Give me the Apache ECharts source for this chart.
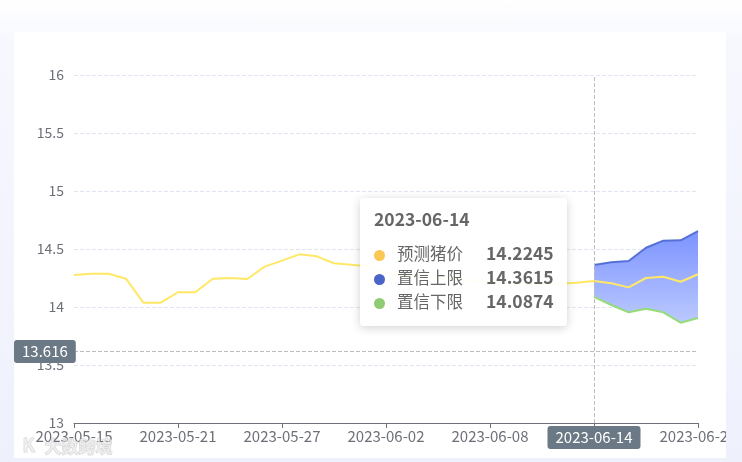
<!DOCTYPE html>
<html>
<head>
<meta charset="utf-8">
<script src="https://cdn.jsdelivr.net/npm/echarts@6/dist/echarts.min.js"></script>
<style>
  html, body { margin:0; padding:0; width:742px; height:462px; overflow:hidden;
    background: linear-gradient(180deg, #ffffff 0px, #f7f8fe 40px, #eef0fc 462px); }
  #card { position:absolute; left:14px; top:32px; width:712px; height:426px; background:#ffffff; }
  #chart { width:712px; height:426px; }
</style>
</head>
<body>
<div id="card"><div id="chart"></div></div>
<script>
const dates = [
  '2023-05-15','2023-05-16','2023-05-17','2023-05-18','2023-05-19','2023-05-20','2023-05-21',
  '2023-05-22','2023-05-23','2023-05-24','2023-05-25','2023-05-26','2023-05-27','2023-05-28',
  '2023-05-29','2023-05-30','2023-05-31','2023-06-01','2023-06-02','2023-06-03','2023-06-04',
  '2023-06-05','2023-06-06','2023-06-07','2023-06-08','2023-06-09','2023-06-10','2023-06-11',
  '2023-06-12','2023-06-13','2023-06-14','2023-06-15','2023-06-16','2023-06-17','2023-06-18',
  '2023-06-19','2023-06-20'
];
const forecastPrice = [
  14.276, 14.287, 14.287, 14.244, 14.037, 14.037, 14.127, 14.127, 14.244, 14.250,
  14.241, 14.348, 14.400, 14.454, 14.437, 14.377, 14.365, 14.350, 14.300, 14.270,
  14.260, 14.250, 14.240, 14.230, 14.220, 14.205, 14.200, 14.195, 14.200, 14.210,
  14.2245, 14.204, 14.169, 14.250, 14.261, 14.218, 14.282
];
const upperBound = [
  null,null,null,null,null,null,null,null,null,null,
  null,null,null,null,null,null,null,null,null,null,
  null,null,null,null,null,null,null,null,null,null,
  14.3615, 14.385, 14.397, 14.511, 14.572, 14.575, 14.655
];
const lowerBound = [
  null,null,null,null,null,null,null,null,null,null,
  null,null,null,null,null,null,null,null,null,null,
  null,null,null,null,null,null,null,null,null,null,
  14.0874, 14.017, 13.954, 13.985, 13.954, 13.865, 13.905
];
const yTicks = { min: 13, max: 16, interval: 0.5 };

const bandWidth = upperBound.map((u, i) => (u == null || lowerBound[i] == null) ? null : +(u - lowerBound[i]).toFixed(4));

const chart = echarts.init(document.getElementById('chart'), null, { renderer: 'canvas' });
const FONT = '"Noto Sans CJK SC", "Noto Sans", sans-serif';
const colors = { price: '#f6d35c', upper: '#4e67c4', lower: '#88c86e' };

chart.setOption({
  animation: false,
  textStyle: { fontFamily: FONT },
  grid: { left: 60, right: 28, top: 43, bottom: 35, outerBoundsMode: 'none', containLabel: false },
  tooltip: {
    trigger: 'axis',
    alwaysShowContent: true,
    transitionDuration: 0,
    backgroundColor: 'rgba(255,255,255,0.94)',
    borderWidth: 0,
    padding: [10, 13, 13, 14],
    extraCssText: 'box-shadow:0 2px 10px rgba(0,0,0,0.18);border-radius:4px;',
    position: function () { return [346, 166]; },
    axisPointer: {
      type: 'cross',
      crossStyle: { color: '#bdbdbd', type: 'dashed', width: 1 },
      lineStyle: { color: '#bdbdbd', type: 'dashed', width: 1 },
      label: { backgroundColor: '#6a7985', fontSize: 15, fontFamily: FONT, padding: [4, 8, 4, 8], borderRadius: 3 }
    },
    formatter: function (params) {
      const i = params[0].dataIndex;
      const rows = [
        ['预测猪价', forecastPrice[i], '#fbc754'],
        ['置信上限', upperBound[i], '#4a64c8'],
        ['置信下限', lowerBound[i], '#8fcb72']
      ];
      let h = '<div style="font-family:' + FONT.replace(/"/g, "'") + ';">';
      h += '<div style="font-size:17.5px;font-weight:bold;color:#666;line-height:22px;margin-bottom:11px;">' + dates[i] + '</div>';
      rows.forEach(r => {
        if (r[1] == null) return;
        h += '<div style="line-height:24px;height:24px;white-space:nowrap;">' +
          '<span style="display:inline-block;width:11px;height:11px;border-radius:50%;background:' + r[2] + ';margin-right:12px;vertical-align:-1px;"></span>' +
          '<span style="font-size:16.5px;color:#666;">' + r[0] + '</span>' +
          '<span style="font-size:17.5px;font-weight:bold;color:#666;margin-left:23px;">' + r[1] + '</span></div>';
      });
      return h + '</div>';
    }
  },
  xAxis: {
    type: 'category',
    boundaryGap: false,
    data: dates,
    axisLine: { lineStyle: { color: '#6e7079' } },
    axisTick: { interval: 5, alignWithLabel: true, lineStyle: { color: '#6e7079' } },
    axisLabel: { interval: 5, color: '#6e7079', fontSize: 15, margin: 6, fontFamily: FONT }
  },
  yAxis: {
    type: 'value',
    min: yTicks.min, max: yTicks.max, interval: yTicks.interval,
    axisLabel: { color: '#6e7079', fontSize: 14, margin: 10, fontFamily: FONT },
    splitLine: { lineStyle: { color: '#e0e6f1', type: 'dashed' } }
  },
  series: [
    {
      name: '置信下限', type: 'line', data: lowerBound, stack: 'band',
      symbol: 'none', showSymbol: false, smooth: false,
      lineStyle: { color: colors.lower, width: 2 }, itemStyle: { color: colors.lower }, z: 3
    },
    {
      name: 'band', type: 'line', data: bandWidth, stack: 'band',
      symbol: 'none', showSymbol: false,
      lineStyle: { width: 0, opacity: 0 },
      areaStyle: {
        opacity: 1,
        color: new echarts.graphic.LinearGradient(0, 0, 0, 1, [
          { offset: 0, color: '#7186f4' },
          { offset: 1, color: '#aab7fa' }
        ])
      }, z: 1
    },
    {
      name: '置信上限', type: 'line', data: upperBound,
      symbol: 'none', showSymbol: false,
      lineStyle: { color: colors.upper, width: 2 }, itemStyle: { color: colors.upper }, z: 3
    },
    {
      name: '预测猪价', type: 'line', data: forecastPrice,
      symbol: 'none', showSymbol: false,
      lineStyle: { color: colors.price, width: 2 }, itemStyle: { color: colors.price }, z: 4
    }
  ],
  graphic: [
    {
      type: 'text', left: 8, top: 404, z: 100, silent: true,
      style: { text: 'K', font: 'bold 18px ' + FONT, fill: 'rgba(235,235,235,0.7)', stroke: 'rgba(140,140,140,0.35)', lineWidth: 1 }
    },
    {
      type: 'text', left: 30, top: 406, z: 100, silent: true,
      style: { text: '大数跨境', font: 'bold 17px ' + FONT, fill: 'rgba(235,235,235,0.7)', stroke: 'rgba(140,140,140,0.35)', lineWidth: 1 }
    }
  ]
});

chart.dispatchAction({ type: 'showTip', x: 580, y: 319.5 });
</script>
</body>
</html>
